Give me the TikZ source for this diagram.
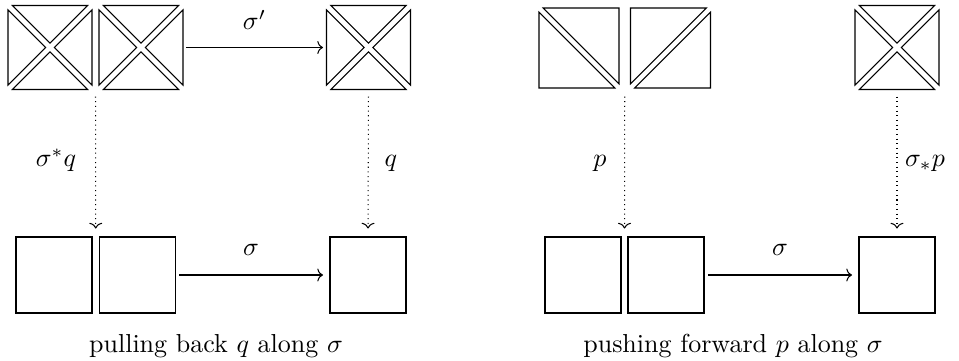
\documentclass[tikz,border=0pt]{standalone}
\usetikzlibrary{arrows.meta,calc}
\newcommand\pxl{0.3846pt}
\newcommand\xcross[1]{%
  \begin{scope}[shift={(#1.center)}]
    \draw (-42+4.4,-42) -- (42-4.4,-42) -- (0,-4.4) -- cycle;
    \draw (-42+4.4,42) -- (42-4.4,42) -- (0,4.4) -- cycle;
    \draw (-42,-42+4.4) -- (-42,42-4.4) -- (-4.4,0) -- cycle;
    \draw (42,-42+4.4) -- (42,42-4.4) -- (4.4,0) -- cycle;
  \end{scope}}
\newcommand\backhalf[1]{%
  \begin{scope}[shift={(#1.center)}]
    \draw (-40,-40+4.2) -- (-40,40) -- (40-4.2,40) -- cycle;
    \draw (-40+4.2,-40) -- (40,-40) -- (40,40-4.2) -- cycle;
  \end{scope}}
\newcommand\slashhalf[1]{%
  \begin{scope}[shift={(#1.center)}]
    \draw (-40,-40) -- (40-4.2,-40) -- (-40,40-4.2) -- cycle;
    \draw (40,-40+4.2) -- (40,40) -- (-40+4.2,40) -- cycle;
  \end{scope}}
\begin{document}
\begin{tikzpicture}[x=\pxl,y=-\pxl,line width=0.4pt,
  xsq/.style={minimum width=84*\pxl,minimum height=84*\pxl,inner sep=0pt,outer sep=0pt},
  hsq/.style={minimum width=80*\pxl,minimum height=80*\pxl,inner sep=0pt,outer sep=0pt},
  bsq/.style={draw,minimum width=76*\pxl,minimum height=76*\pxl,inner sep=0pt,outer sep=0pt},
  map/.style={-{To[length=2.2pt,width=5pt]}},
  proj/.style={-{To[length=2.2pt,width=5pt]},dash pattern=on 0.4pt off 1.4pt},
  lbl/.style={anchor=base,inner sep=0pt}]
\useasboundingbox (0,0) rectangle (959,360);
% left diagram
\node[xsq] (tA) at (50,47.5) {};
\node[xsq] (tB) at (141,47.5) {};
\node[xsq] (tC) at (368.5,47.5) {};
\xcross{tA}\xcross{tB}\xcross{tC}
\node[bsq] (bA) at (54,275) {};
\node[bsq] (bB) at (137.5,275) {};
\node[bsq] (bC) at (368,275) {};
\draw[map,shorten <=3*\pxl,shorten >=3.5*\pxl] (tB.east) -- (tC.west);
\draw[map,shorten <=3.5*\pxl,shorten >=7*\pxl] (bB.east) -- (bC.west);
\coordinate (tAB) at ($(tA.south east)!0.5!(tB.south west)$);
\coordinate (bAB) at ($(bA.north east)!0.5!(bB.north west)$);
\draw[proj,shorten <=7*\pxl,shorten >=8.5*\pxl] (tAB) -- (bAB);
\draw[proj,shorten <=7*\pxl,shorten >=8.5*\pxl] (tC.south) -- (bC.north);
\node[lbl] (l1) at (254.5,29.5) {$\sigma'$};
\node[lbl] (l2) at (251,255) {$\sigma$};
\node[lbl] (l3) at (56,166.7) {$\sigma^*q$};
\node[lbl] (l4) at (391,166.7) {$q$};
\node[lbl] (c1) at (216,352) {pulling back $q$ along $\sigma$};
% right diagram
\node[hsq] (tD) at (579,48) {};
\node[hsq] (tE) at (670.5,48) {};
\node[xsq] (tF) at (897,47.5) {};
\backhalf{tD}\slashhalf{tE}\xcross{tF}
\node[bsq] (bD) at (583,275) {};
\node[bsq] (bE) at (666,275) {};
\node[bsq] (bF) at (897,275) {};
\draw[map,shorten <=4*\pxl,shorten >=7*\pxl] (bE.east) -- (bF.west);
\coordinate (tDE) at ($(tD.south east)!0.5!(tE.south west)$);
\coordinate (bDE) at ($(bD.north east)!0.5!(bE.north west)$);
\draw[proj,shorten <=8.5*\pxl,shorten >=8.5*\pxl] (tDE) -- (bDE);
\draw[proj,shorten <=7*\pxl,shorten >=8.5*\pxl] (tF.south) -- (bF.north);
\node[lbl] (l5) at (780,255) {$\sigma$};
\node[lbl] (l6) at (600,166.7) {$p$};
\node[lbl] (l7) at (925,166.7) {$\sigma_*p$};
\node[lbl] (c2) at (733,352) {pushing forward $p$ along $\sigma$};
\end{tikzpicture}
\end{document}
